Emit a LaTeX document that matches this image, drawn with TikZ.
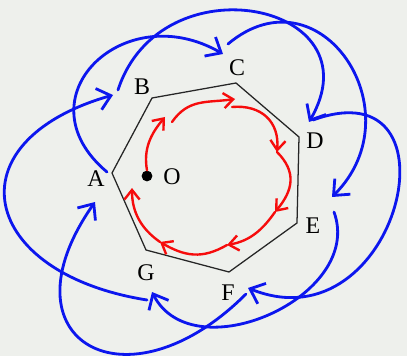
\documentclass[tikz,border=0pt]{standalone}
\usepackage{fontspec}
\setmainfont{Liberation Serif}
\usetikzlibrary{arrows.meta}
\definecolor{paper}{RGB}{238,240,236}
\definecolor{penblue}{RGB}{12,22,238}
\definecolor{penred}{RGB}{246,12,12}

\begin{document}
\begin{tikzpicture}[x=0.25mm, y=0.25mm,
    heptagon/.style={draw=black!85, line width=0.9pt},
    vlabel/.style={font=\fontsize{17}{20}\selectfont, inner sep=0pt},
    bluearc/.style={draw=penblue, line width=2pt, line cap=round, -{Straight Barb[length=3.2mm, width=5.5mm]}},
    redarc/.style={draw=penred, line width=1.7pt, line cap=round, -{Straight Barb[length=2.4mm, width=3.8mm]}}
]

% Paper
\fill[paper] (0,0) rectangle (407,356);
\useasboundingbox (0,0) rectangle (407,356);

% Heptagon corners
\coordinate (vA) at (112,183);
\coordinate (vB) at (152,258);
\coordinate (vC) at (236,273);
\coordinate (vD) at (299,219);
\coordinate (vE) at (297,133);
\coordinate (vF) at (229,84);
\coordinate (vG) at (146,106);
\draw[heptagon] (vA) -- (vB) -- (vC) -- (vD) -- (vE) -- (vF) -- (vG) -- cycle;

% Corner labels
\node[vlabel] (lA) at (96,177) {A};
\node[vlabel] (lB) at (142,269) {B};
\node[vlabel] (lC) at (237,288) {C};
\node[vlabel] (lD) at (315,215) {D};
\node[vlabel] (lE) at (313,130) {E};
\node[vlabel] (lF) at (228,63) {F};
\node[vlabel] (lG) at (146,83) {G};

% Centre
\node[circle, fill=black, inner sep=0pt, minimum size=2.7mm] (dot) at (147,180) {};
\node[vlabel] (centre) at (172,179) {O};

% Red path round the centre
\coordinate (k1) at (165,239);
\coordinate (k2) at (172,234);
\coordinate (k3) at (235,257);
\coordinate (k4) at (232,249);
\coordinate (k5) at (277,204);
\coordinate (k6) at (275,144);
\coordinate (k7) at (227,111);
\coordinate (k8) at (160,114);
\coordinate (k9) at (132,168);
\draw[redarc] (dot.north) to[out=100, in=230] (k1);
\draw[redarc] (k2) to[out=55, in=188, looseness=1.1] (k3);
\draw[redarc] (k4) to[out=5, in=85, looseness=1.2] (k5);
\draw[redarc] (k5) to[out=-45, in=50, looseness=1.2] (k6);
\draw[redarc] (k6) to[out=-125, in=10] (k7);
\draw[redarc] (k7) to[out=-150, in=-30, looseness=1.1] (k8);
\draw[redarc] (k8) to[out=145, in=-90] (k9);

% Blue loops: tails and tips beside each corner
\coordinate (tA) at (107,184);
\coordinate (tB) at (118,266);
\coordinate (tC) at (228,312);
\coordinate (tD) at (313,236);
\coordinate (tE) at (334,144);
\coordinate (tF) at (246,62);
\coordinate (tG) at (147,56);
\coordinate (pA) at (95,154);
\coordinate (pB) at (113,261);
\coordinate (pC) at (223,302);
\coordinate (pD) at (309,234);
\coordinate (pE) at (332,159);
\coordinate (pF) at (248,68);
\coordinate (pG) at (152,64);

\draw[bluearc] (tA) to[out=140, in=150, looseness=1.78] (pC);
\draw[bluearc] (tB) to[out=72, in=60, looseness=1.82] (pD);
\draw[bluearc] (tC) to[out=40, in=45, looseness=1.66] (pE);
\draw[bluearc] (tD) to[out=20, in=-22, looseness=2.31] (pF);
\draw[bluearc] (tE) to[out=-70, in=-63, looseness=1.16] (pG);
\draw[bluearc] (tF) to[out=-135, in=-125, looseness=2.45] (pA);
\draw[bluearc] (tG) to[out=171, in=-164, looseness=2.09] (pB);

\end{tikzpicture}
\end{document}
